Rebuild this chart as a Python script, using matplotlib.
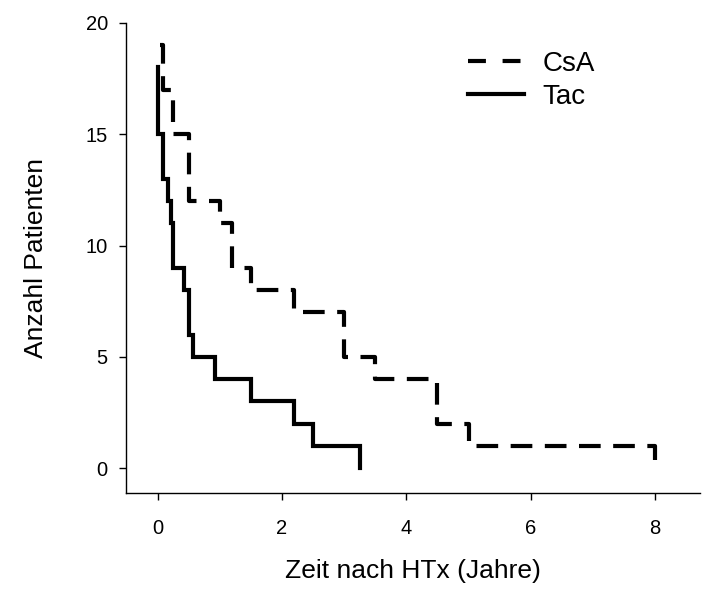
import matplotlib
matplotlib.use("Agg")
import matplotlib.pyplot as plt
from matplotlib.lines import Line2D

plt.rcParams['font.family'] = ['Liberation Sans', 'DejaVu Sans']

# Data (Kaplan-Meier-like step curves)
csa_time = [0.04, 0.08, 0.25, 0.5, 1.0, 1.2, 1.5, 2.2, 3.0, 3.5, 4.5, 5.0, 8.0]
csa_count = [19, 17, 15, 12, 11, 9, 8, 7, 5, 4, 2, 1, 0]
tac_time = [0, 0, 0.08, 0.16, 0.22, 0.25, 0.42, 0.5, 0.57, 0.92, 1.5, 2.2, 2.5, 3.25]
tac_count = [18, 15, 13, 12, 11, 9, 8, 6, 5, 4, 3, 2, 1, 0]

x_ticks = [0, 2, 4, 6, 8]
y_ticks = [0, 5, 10, 15, 20]
series_labels = ["CsA", "Tac"]

fig = plt.figure(figsize=(7.07, 5.89), dpi=100)
ax = fig.add_axes([0.178, 0.163, 0.812, 0.798])

lw = 3.0
dash = (0, (5.2, 3))
ax.plot(csa_time, csa_count, drawstyle='steps-post', color='black', lw=lw,
        linestyle=dash, dash_capstyle='butt', solid_joinstyle='miter')
ax.plot(tac_time, tac_count, drawstyle='steps-post', color='black', lw=lw,
        solid_joinstyle='miter')

ax.set_xlim(-0.51, 8.72)
ax.set_ylim(-1.12, 20)
ax.set_xticks(x_ticks)
ax.set_yticks(y_ticks)
ax.spines['top'].set_visible(False)
ax.spines['right'].set_visible(False)
for s in ['left', 'bottom']:
    ax.spines[s].set_linewidth(1.0)
ax.tick_params(axis='both', direction='out', length=5, width=1.0, labelsize=14.5, pad=14)
ax.tick_params(axis='y', pad=8)

ax.set_xlabel("Zeit nach HTx (Jahre)", fontsize=19, labelpad=15)
ax.set_ylabel("Anzahl Patienten", fontsize=19, labelpad=27)

handles = [Line2D([], [], color='black', lw=lw, linestyle=(0, (4.3, 4.0)), dash_capstyle='butt'),
           Line2D([], [], color='black', lw=lw)]
fig.legend(handles, series_labels, loc='upper left', bbox_to_anchor=(0.662, 0.914),
           frameon=False, fontsize=20, handlelength=2.0, handletextpad=0.68,
           labelspacing=0.25, borderaxespad=0, borderpad=0)

fig.savefig("out.png", dpi=100)
